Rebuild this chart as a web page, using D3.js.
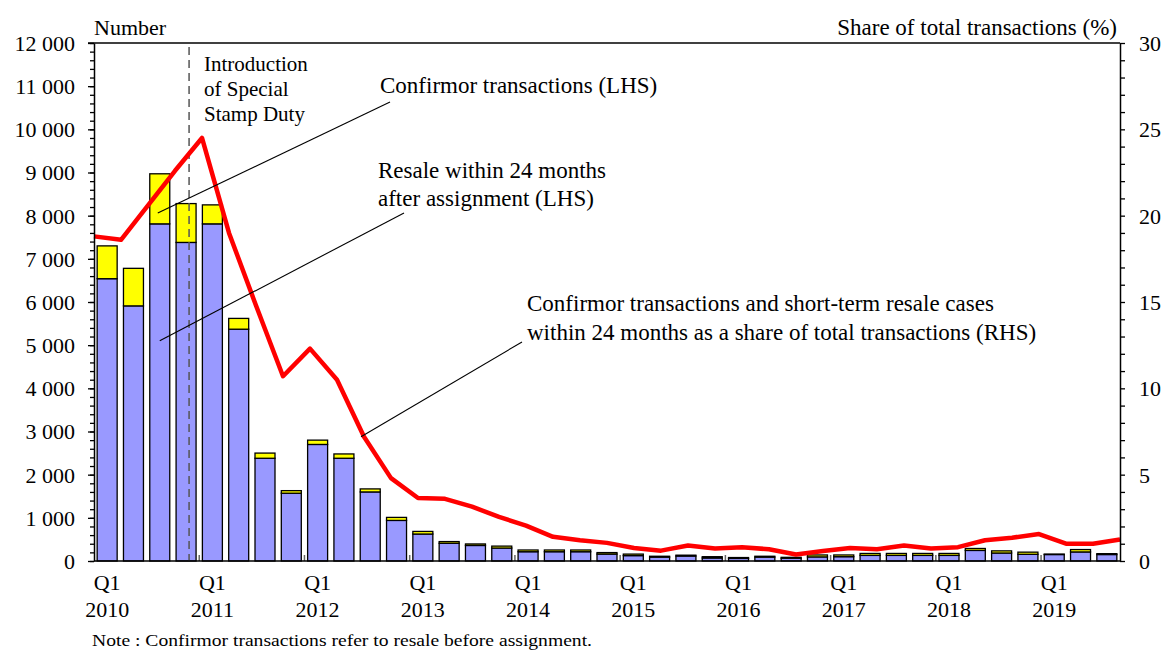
<!DOCTYPE html>
<html>
<head>
<meta charset="utf-8">
<script src="https://cdn.jsdelivr.net/npm/d3@7"></script>
<style>
  body { margin: 0; background: #fff; }
  text { font-family: "Liberation Serif", "Times New Roman", serif; fill: #000; }
</style>
</head>
<body>
<script>
// quarters from 2010 Q1 to 2019 Q3
var quarters = [
  "2010 Q1", "2010 Q2", "2010 Q3", "2010 Q4",
  "2011 Q1", "2011 Q2", "2011 Q3", "2011 Q4",
  "2012 Q1", "2012 Q2", "2012 Q3", "2012 Q4",
  "2013 Q1", "2013 Q2", "2013 Q3", "2013 Q4",
  "2014 Q1", "2014 Q2", "2014 Q3", "2014 Q4",
  "2015 Q1", "2015 Q2", "2015 Q3", "2015 Q4",
  "2016 Q1", "2016 Q2", "2016 Q3", "2016 Q4",
  "2017 Q1", "2017 Q2", "2017 Q3", "2017 Q4",
  "2018 Q1", "2018 Q2", "2018 Q3", "2018 Q4",
  "2019 Q1", "2019 Q2", "2019 Q3"
];

// resale within 24 months after assignment (LHS, number)
var resale = [
  6540, 5910, 7810, 7380, 7810, 5370, 2380, 1570,
  2700, 2380, 1600, 940, 625, 410, 360, 300,
  215, 215, 215, 160, 125, 90, 115, 70,
  60, 90, 65, 95, 100, 130, 130, 130,
  130, 245, 185, 155, 150, 210, 150
];

// confirmor transactions (LHS, number)
var confirmor = [
  760, 870, 1160, 900, 440, 250, 120, 60,
  100, 100, 70, 70, 60, 40, 35, 45,
  40, 40, 40, 35, 35, 20, 20, 30,
  20, 20, 20, 45, 40, 45, 45, 45,
  45, 45, 50, 50, 10, 55, 20
];

// share of total transactions (RHS, %)
var share = [
  18.8, 18.6, 20.6, 22.6, 24.5, 19.0, 14.8, 10.7,
  12.3, 10.5, 7.2, 4.8, 3.65, 3.6, 3.15, 2.55,
  2.05, 1.4, 1.2, 1.05, 0.75, 0.6, 0.9, 0.72,
  0.8, 0.68, 0.38, 0.58, 0.75, 0.68, 0.9, 0.73,
  0.8, 1.2, 1.35, 1.56, 1.0, 1.0, 1.25
];

var leftTicks = [0, 1000, 2000, 3000, 4000, 5000, 6000, 7000, 8000, 9000, 10000, 11000, 12000];
var rightTicks = [0, 5, 10, 15, 20, 25, 30];
var sddQuarter = "2010 Q4";

var width = 1170, height = 651;
var margin = {top: 43, left: 94},
    innerW = 1026,
    innerH = 518;

var svg = d3.select("body").append("svg")
    .attr("width", width)
    .attr("height", height);

var g = svg.append("g")
    .attr("transform", "translate(" + margin.left + "," + margin.top + ")");

// scales
var x = d3.scaleBand().domain(quarters).range([0, innerW])
    .paddingInner(0.24).paddingOuter(0.12);
var xLine = d3.scalePoint().domain(quarters).range([0, innerW]);
var yL = d3.scaleLinear().domain([0, 12000]).range([innerH, 0]);
var yR = d3.scaleLinear().domain([0, 30]).range([innerH, 0]);

// stacked bars
var table = quarters.map(function(q, i) {
  return {q: q, resale: resale[i], confirmor: confirmor[i]};
});
var stack = d3.stack().keys(["resale", "confirmor"])(table);
var colors = {resale: "#9999ff", confirmor: "#ffff00"};

g.selectAll("g.layer")
  .data(stack)
  .enter().append("g")
    .attr("class", "layer")
    .attr("fill", function(d) { return colors[d.key]; })
  .selectAll("rect")
  .data(function(d) { return d; })
  .enter().append("rect")
    .attr("x", function(d) { return x(d.data.q); })
    .attr("width", x.bandwidth())
    .attr("y", function(d) { return yL(d[1]); })
    .attr("height", function(d) { return yL(d[0]) - yL(d[1]); })
    .attr("stroke", "#000")
    .attr("stroke-width", 1.3);

// small year ticks on the x axis
var q1s = quarters.filter(function(q) { return /Q1$/.test(q); });
g.selectAll("line.ytick")
  .data(q1s.slice(1))
  .enter().append("line")
    .attr("x1", function(q) { return x(q) - x.step() * x.paddingInner() / 2; })
    .attr("x2", function(q) { return x(q) - x.step() * x.paddingInner() / 2; })
    .attr("y1", innerH)
    .attr("y2", innerH - 6)
    .attr("stroke", "#666")
    .attr("stroke-width", 1.5);

// special stamp duty marker
var sddX = x(sddQuarter) + x.bandwidth() * 0.65;
g.append("line")
    .attr("x1", sddX).attr("x2", sddX)
    .attr("y1", 4).attr("y2", innerH)
    .attr("stroke", "#555")
    .attr("stroke-width", 1.5)
    .attr("stroke-dasharray", "8,5");

// share line
var line = d3.line()
    .x(function(d, i) { return xLine(quarters[i]); })
    .y(function(d) { return yR(d); });

g.append("path")
    .datum(share)
    .attr("fill", "none")
    .attr("stroke", "#ff0000")
    .attr("stroke-width", 4.5)
    .attr("stroke-linejoin", "round")
    .attr("d", line);

// axes
var fmt = function(d) { return d3.format(",")(d).replace(",", " "); };

g.append("g")
    .call(d3.axisLeft(yL).tickValues(d3.range(0, 12001, 200)).tickSize(4).tickSizeOuter(0).tickFormat(""))
    .call(function(a) { a.select(".domain").remove(); });

var left = g.append("g")
    .call(d3.axisLeft(yL).tickValues(leftTicks).tickSize(6).tickSizeOuter(0).tickPadding(13).tickFormat(fmt));
left.selectAll("text").style("font-size", "22px").attr("dy", "0.34em");

var right = g.append("g")
    .attr("transform", "translate(" + innerW + ",0)")
    .call(d3.axisRight(yR).tickValues(d3.range(0, 31, 1)).tickSize(5).tickSizeOuter(0).tickPadding(14)
      .tickFormat(function(d) { return rightTicks.indexOf(d) >= 0 ? d : ""; }));
right.selectAll("text").style("font-size", "22px").attr("dy", "0.34em");

g.selectAll(".domain").attr("stroke-width", 1.5);
g.selectAll(".tick line").attr("stroke-width", 1.3);

// top frame and baseline
g.append("line").attr("x1", -6).attr("x2", innerW).attr("y1", 0).attr("y2", 0)
    .attr("stroke", "#000").attr("stroke-width", 1.5);
g.append("line").attr("x1", 0).attr("x2", innerW).attr("y1", innerH).attr("y2", innerH)
    .attr("stroke", "#000").attr("stroke-width", 1.5);

// x labels
var xl = g.selectAll("g.xlab")
  .data(q1s)
  .enter().append("g")
    .attr("transform", function(q) { return "translate(" + (x(q) + x.bandwidth() / 2) + "," + innerH + ")"; })
    .style("font-size", "22px")
    .attr("text-anchor", "middle");
xl.append("text").attr("y", 29).text("Q1");
xl.append("text").attr("y", 56).text(function(q) { return q.slice(0, 4); });

// axis titles
svg.append("text").attr("x", 94).attr("y", 35).style("font-size", "22px").text("Number");
svg.append("text").attr("x", 1117).attr("y", 35).attr("text-anchor", "end")
    .style("font-size", "23px").text("Share of total transactions (%)");

// annotations
var intro = svg.append("text").attr("x", 204).attr("y", 71).style("font-size", "21px");
["Introduction", "of Special", "Stamp Duty"].forEach(function(s, i) {
  intro.append("tspan").attr("x", 204).attr("dy", i ? 25 : 0).text(s);
});

svg.append("text").attr("x", 380).attr("y", 93).style("font-size", "23px")
    .text("Confirmor transactions (LHS)");

var rs = svg.append("text").attr("x", 378).attr("y", 178).style("font-size", "23px");
["Resale within  24 months", "after assignment (LHS)"].forEach(function(s, i) {
  rs.append("tspan").attr("x", 378).attr("dy", i ? 28 : 0).text(s);
});

var sh = svg.append("text").attr("x", 527).attr("y", 311).style("font-size", "23px");
["Confirmor transactions and short-term resale cases",
 "within  24 months as a share of total transactions (RHS)"].forEach(function(s, i) {
  sh.append("tspan").attr("x", 527).attr("dy", i ? 29 : 0).text(s);
});

// leader lines, anchored to the marks they point at
var i3 = quarters[2];
var leaders = [
  {x1: 390, y1: 102, x2: margin.left + x(i3) + x.bandwidth() / 2 - 2, y2: margin.top + yL(8060)},
  {x1: 404, y1: 213, x2: margin.left + x(i3) + x.bandwidth() / 2, y2: margin.top + yL(5100)},
  {x1: 522, y1: 342, x2: margin.left + xLine(quarters[10]) - 3, y2: margin.top + yR(share[10])}
];
svg.selectAll("line.leader")
  .data(leaders)
  .enter().append("line")
    .attr("x1", function(d) { return d.x1; })
    .attr("y1", function(d) { return d.y1; })
    .attr("x2", function(d) { return d.x2; })
    .attr("y2", function(d) { return d.y2; })
    .attr("stroke", "#000")
    .attr("stroke-width", 1.1);

// note
svg.append("text").attr("x", 92).attr("y", 646).style("font-size", "16px")
    .attr("textLength", 500).attr("lengthAdjust", "spacingAndGlyphs")
    .text("Note : Confirmor  transactions  refer to resale before assignment.");
</script>
</body>
</html>
